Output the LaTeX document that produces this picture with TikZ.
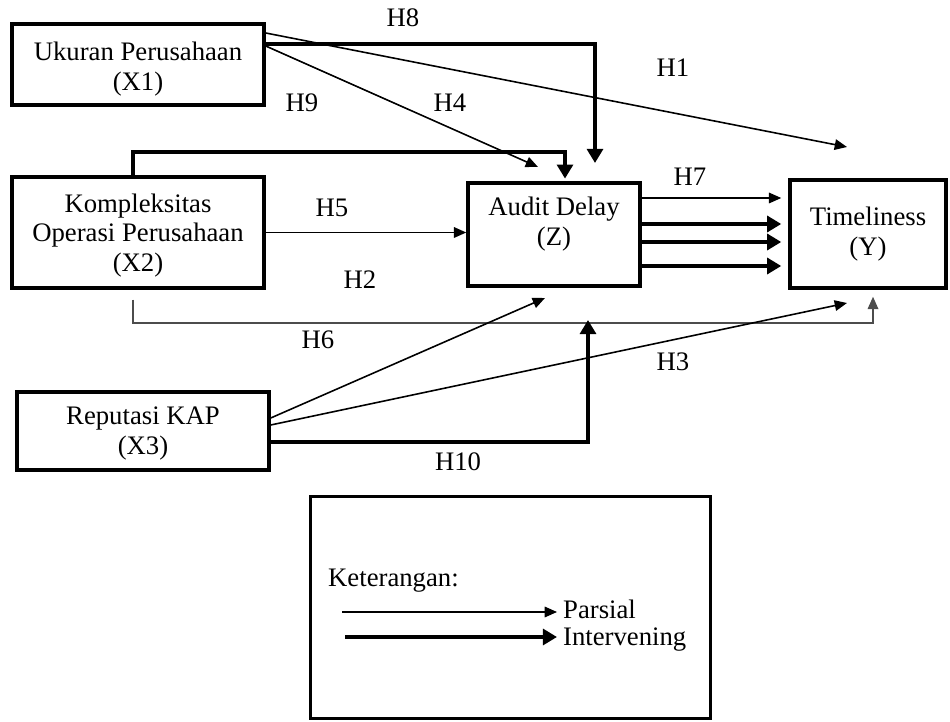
\documentclass[tikz,border=0pt]{standalone}
\usepackage{fontspec}
\setmainfont{Liberation Serif}
\usetikzlibrary{arrows.meta}

\tikzset{
  varbox/.style={draw, line width=2pt, align=center, inner sep=0pt},
  parsial/.style={line width=0.9pt, -{Triangle[length=7pt,width=6pt]}},
  intervening/.style={line width=2.6pt, -{Triangle[length=8pt,width=9pt]}},
}

\begin{document}
\begin{tikzpicture}[x=0.02cm, y=-0.02cm, font=\fontsize{15.2}{17}\selectfont]
  \useasboundingbox (0,0) rectangle (950,722);

  % variables
  \node[varbox, minimum width=5.04cm, minimum height=1.62cm, text height=33pt] (x1) at (138,64.5) {Ukuran Perusahaan\\(X1)};
  \node[varbox, minimum width=5.04cm, minimum height=2.22cm, text height=48pt] (x2) at (138,232.5) {Kompleksitas\\Operasi Perusahaan\\(X2)};
  \node[varbox, minimum width=5.04cm, minimum height=1.56cm, text height=30pt] (x3) at (143,431) {Reputasi KAP\\(X3)};
  \node[varbox, minimum width=3.44cm, minimum height=2.06cm, text depth=15pt] (z) at (554,234.5) {Audit Delay\\(Z)};
  \node[varbox, minimum width=3.12cm, minimum height=2.16cm] (y) at (868,234) {Timeliness\\(Y)};

  % free ends of the arrows
  \coordinate (h1end) at (847,147);
  \coordinate (h4end) at (538,167);
  \coordinate (h8end) at (595,163);
  \coordinate (h10end) at (588,320);
  \coordinate (x3z) at (545,298);
  \coordinate (x3y) at (847,303);
  \coordinate (h6start) at ([yshift=-0.2cm]x2.south);

  % from X1
  \draw[parsial] (x1.east |- 0,33) -- (h1end);
  \draw[parsial] (x1.east |- 0,46) -- (h4end);
  \draw[intervening] (x1.east |- 0,44) -| (h8end);

  % from X2
  \draw[intervening, shorten >=1.5pt] (x2.north -| 133,0) -- (133,152) -| (z.north -| 565,0);
  \draw[parsial] (x2.east) -- (x2.east -| z.west);
  \draw[parsial, black!70, shorten >=0.14cm] (h6start -| 133,0) |- (873,323) -- (y.south -| 873,0);

  % from X3
  \draw[parsial] (x3.east |- 0,418) -- (x3z);
  \draw[parsial] (x3.east |- 0,425) -- (x3y);
  \draw[intervening] (x3.east |- 0,442) -| (h10end);

  % Z to Y
  \draw[parsial, shorten >=0.14cm] (z.east |- 0,198) -- (y.west |- 0,198);
  \foreach \yy in {224,242,266}
    \draw[intervening, shorten >=0.14cm] (z.east |- 0,\yy) -- (y.west |- 0,\yy);

  % hypothesis labels
  \node (h1) at (673,68) {H1};
  \node (h2) at (360,280) {H2};
  \node (h3) at (673,362) {H3};
  \node (h4) at (450,103) {H4};
  \node (h5) at (332,208) {H5};
  \node (h6) at (318,340) {H6};
  \node (h7) at (690,177) {H7};
  \node (h8) at (403,18) {H8};
  \node (h9) at (302,103) {H9};
  \node (h10) at (458,462) {H10};

  % legend
  \node[draw, line width=1.7pt, minimum width=8.02cm, minimum height=4.46cm] (legend) at (510.5,607.5) {};
  \node[anchor=west] (ket) at (322,581) {Keterangan:};
  \node[anchor=west, align=left, font=\fontsize{15.2}{15.3}\selectfont] (ltext) at (557,626) {Parsial\\Intervening};
  \coordinate (lp) at (342,612);
  \coordinate (li) at (345,637);
  \draw[parsial] (lp) -- (lp -| ltext.west);
  \draw[intervening] (li) -- (li -| ltext.west);

\end{tikzpicture}
\end{document}
